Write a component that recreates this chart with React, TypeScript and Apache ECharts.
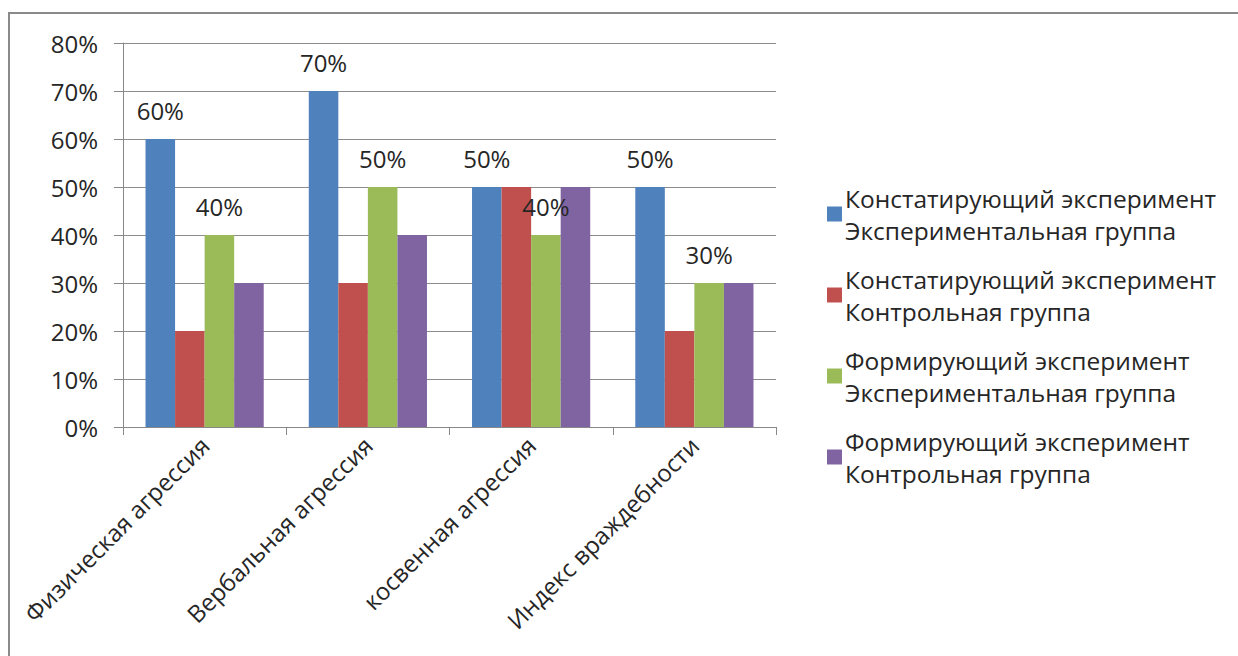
import React, { useEffect, useRef } from "react";
import * as echarts from "echarts";

const categories = [
  "Физическая агрессия",
  "Вербальная агрессия",
  "косвенная агрессия",
  "Индекс враждебности",
];

const seriesNames = [
  "Констатирующий эксперимент\nЭкспериментальная группа",
  "Констатирующий эксперимент\nКонтрольная группа",
  "Формирующий эксперимент\nЭкспериментальная группа",
  "Формирующий эксперимент\nКонтрольная группа",
];

const ascertainingExperimental = [60, 70, 50, 50];
const ascertainingControl = [20, 30, 50, 20];
const formativeExperimental = [40, 50, 40, 30];
const formativeControl = [30, 40, 50, 30];

const yTicks = [0, 10, 20, 30, 40, 50, 60, 70, 80];

const colors = ["#4F81BD", "#C0504D", "#9BBB59", "#8064A2"];
const FONT = "Open Sans";
const TEXT = "#262626";
const FS = 24;

export default function App() {
  const ref = useRef<HTMLDivElement>(null);

  useEffect(() => {
    if (!ref.current) return;
    const chart = echarts.init(ref.current, undefined, { renderer: "svg" });
    const values = [
      ascertainingExperimental,
      ascertainingControl,
      formativeExperimental,
      formativeControl,
    ];
    const labelled = [true, false, true, false];

    chart.setOption({
      animation: false,
      backgroundColor: "#ffffff",
      color: colors,
      textStyle: { fontFamily: FONT },
      grid: { left: 123, right: 462, top: 43, bottom: 229, containLabel: false },
      legend: {
        orient: "vertical",
        left: 822,
        top: 177,
        itemWidth: 15,
        itemHeight: 15,
        itemGap: 17,
        icon: "rect",
        textStyle: {
          fontFamily: FONT,
          fontSize: 24.5,
          color: TEXT,
          lineHeight: 32,
          padding: [0, 0, 0, -2],
        },
        data: seriesNames,
      },
      xAxis: {
        type: "category",
        data: categories,
        axisLine: { lineStyle: { color: "#888888", width: 1 } },
        axisTick: { show: true, length: 8, lineStyle: { color: "#888888" } },
        axisLabel: {
          rotate: 45,
          fontFamily: FONT,
          fontSize: FS,
          color: TEXT,
          margin: 14,
        },
      },
      yAxis: {
        type: "value",
        min: 0,
        max: yTicks[yTicks.length - 1],
        interval: 10,
        axisLine: { show: true, lineStyle: { color: "#888888" } },
        axisTick: { show: true, length: 9, lineStyle: { color: "#888888" } },
        splitLine: { show: true, lineStyle: { color: "#8c8c8c" } },
        axisLabel: {
          formatter: (v: number) => `${v}%`,
          fontFamily: FONT,
          fontSize: FS,
          color: TEXT,
          margin: 25,
        },
      },
      series: values.map((data, i) => ({
        name: seriesNames[i],
        type: "bar",
        data,
        barGap: "0%",
        barCategoryGap: "27.6%",
        label: {
          show: labelled[i],
          position: "top",
          distance: 17,
          formatter: (p: any) => `${p.value}%`,
          fontFamily: FONT,
          fontSize: FS,
          color: TEXT,
        },
      })),
      graphic: [
        {
          type: "line",
          shape: { x1: 8, y1: 13, x2: 1238, y2: 13 },
          style: { stroke: "#8a8a8a", lineWidth: 2 },
        },
        {
          type: "line",
          shape: { x1: 9, y1: 12, x2: 9, y2: 656 },
          style: { stroke: "#8a8a8a", lineWidth: 2 },
        },
      ],
    });
    return () => chart.dispose();
  }, []);

  return (
    <div
      ref={ref}
      style={{ position: "fixed", left: 0, top: 0, width: 1238, height: 656 }}
    />
  );
}
